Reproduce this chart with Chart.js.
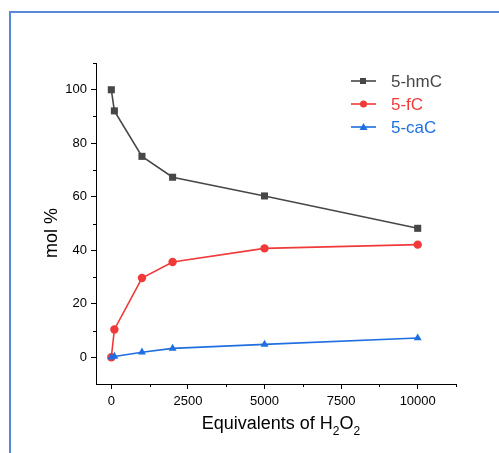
<!DOCTYPE html>
<html>
<head>
<meta charset="utf-8">
<script src="https://cdn.jsdelivr.net/npm/chart.js@4/dist/chart.umd.min.js"></script>
<style>
  html, body { margin: 0; padding: 0; background: #fff; overflow: hidden; }
  #wrap { position: relative; width: 499px; height: 453px; overflow: hidden; }
  #frame { position: absolute; left: 9px; top: 11px; width: 600px; height: 600px; border: 2px solid #5a88d8; box-sizing: border-box; }
  canvas { position: absolute; left: 0; top: 0; }
</style>
</head>
<body>
<div id="wrap">
  <div id="frame"></div>
  <canvas id="chart" width="499" height="453"></canvas>
</div>
<script>
// equivalents of H2O2
const equivalents = [0, 100, 1000, 2000, 5000, 10000];
// mol %
const hmC = [100, 92.1, 75.1, 67.3, 60.3, 48.2];
const fC = [0, 10.4, 29.6, 35.6, 40.7, 42.1];
const caC = [0, 0.3, 1.9, 3.3, 4.8, 7.2];

const seriesNames = ['5-hmC', '5-fC', '5-caC'];
const xMajor = [0, 2500, 5000, 7500, 10000];
const xMinor = [1250, 3750, 6250, 8750, 11250];
const yMajor = [0, 20, 40, 60, 80, 100];
const yMinor = [10, 30, 50, 70, 90, 110];

const FONT = 'Arial, "Liberation Sans", sans-serif';
const colors = ['#474747', '#f03a3a', '#1f6fe0'];
const markers = ['rect', 'circle', 'triangle'];

const toPoints = (ys) => equivalents.map((x, i) => ({ x: x, y: ys[i] }));

// later series drawn on top, like the original plot
const makeSet = (i, ys, radius) => ({
    label: seriesNames[i],
    data: toPoints(ys),
    order: 2 - i,
    borderColor: colors[i],
    backgroundColor: colors[i],
    borderWidth: 1.6,
    pointStyle: markers[i],
    pointRadius: radius,
    pointBorderWidth: 0,
    tension: 0
});

// short outward minor ticks
const minorTicks = {
    id: 'minorTicks',
    afterDraw(chart) {
        const ctx = chart.ctx;
        const xs = chart.scales.x, ys = chart.scales.y;
        ctx.save();
        ctx.strokeStyle = '#000';
        ctx.lineWidth = 1;
        ctx.beginPath();
        xMinor.forEach(v => {
            const px = Math.round(xs.getPixelForValue(v)) + 0.5;
            ctx.moveTo(px, ys.bottom);
            ctx.lineTo(px, ys.bottom + 3);
        });
        yMinor.forEach(v => {
            const py = Math.round(ys.getPixelForValue(v)) + 0.5;
            ctx.moveTo(xs.left, py);
            ctx.lineTo(xs.left - 3, py);
        });
        ctx.stroke();
        ctx.restore();
    }
};

// axis titles (x title needs subscripts)
const axisTitles = {
    id: 'axisTitles',
    afterDraw(chart) {
        const ctx = chart.ctx;
        const xs = chart.scales.x;
        ctx.save();
        ctx.fillStyle = '#000';
        const big = '18px ' + FONT, small = '12px ' + FONT;
        const parts = [['Equivalents of H', big, 0], ['2', small, 6], ['O', big, 0], ['2', small, 6]];
        let total = 0;
        parts.forEach(p => { ctx.font = p[1]; total += ctx.measureText(p[0]).width; });
        let x = (xs.left + xs.right) / 2 + 5 - total / 2;
        ctx.textBaseline = 'alphabetic';
        parts.forEach(p => {
            ctx.font = p[1];
            ctx.fillText(p[0], x, 429 + p[2]);
            x += ctx.measureText(p[0]).width;
        });

        ctx.translate(57, 233);
        ctx.rotate(-Math.PI / 2);
        ctx.font = big;
        ctx.textAlign = 'center';
        ctx.fillText('mol %', 0, 0);
        ctx.restore();
    }
};

// legend with line + marker, text in series colour
const lineLegend = {
    id: 'lineLegend',
    afterDraw(chart) {
        const ctx = chart.ctx;
        ctx.save();
        chart.data.datasets.forEach((ds, i) => {
            const y = 81 + i * 23;
            ctx.strokeStyle = ds.borderColor;
            ctx.fillStyle = ds.borderColor;
            ctx.lineWidth = 1.6;
            ctx.beginPath();
            ctx.moveTo(351, y);
            ctx.lineTo(376, y);
            ctx.stroke();
            ctx.beginPath();
            if (ds.pointStyle === 'rect') {
                ctx.rect(360, y - 3, 6, 6);
            } else if (ds.pointStyle === 'circle') {
                ctx.arc(363.5, y, 3.5, 0, Math.PI * 2);
            } else {
                ctx.moveTo(363.5, y - 4);
                ctx.lineTo(367.5, y + 3);
                ctx.lineTo(359.5, y + 3);
                ctx.closePath();
            }
            ctx.fill();
            ctx.font = '17px ' + FONT;
            ctx.textBaseline = 'middle';
            ctx.fillText(ds.label, 391, y + 1);
        });
        ctx.restore();
    }
};

new Chart(document.getElementById('chart'), {
    type: 'line',
    data: {
        datasets: [makeSet(0, hmC, 5), makeSet(1, fC, 4.2), makeSet(2, caC, 4.6)]
    },
    options: {
        responsive: false,
        animation: false,
        layout: { padding: { top: 63, right: 43, left: 0, bottom: 0 } },
        plugins: { legend: { display: false }, tooltip: { enabled: false } },
        scales: {
            x: {
                type: 'linear',
                min: -500,
                max: 11250,
                afterBuildTicks: (axis) => { axis.ticks = xMajor.map(v => ({ value: v })); },
                afterFit: (axis) => { axis.height = 69; },
                grid: { drawOnChartArea: false, drawTicks: true, tickLength: 5, color: '#000' },
                border: { color: '#000', width: 1 },
                ticks: { color: '#000', padding: 5, maxRotation: 0, font: { family: FONT, size: 13 },
                    callback: (v) => String(v) }
            },
            y: {
                type: 'linear',
                min: -10,
                max: 110,
                afterBuildTicks: (axis) => { axis.ticks = yMajor.map(v => ({ value: v })); },
                afterFit: (axis) => { axis.width = 96; },
                grid: { drawOnChartArea: false, drawTicks: true, tickLength: 5, color: '#000' },
                border: { color: '#000', width: 1 },
                ticks: { color: '#000', padding: 4, font: { family: FONT, size: 13 },
                    callback: (v) => String(v) }
            }
        }
    },
    plugins: [minorTicks, axisTitles, lineLegend]
});
</script>
</body>
</html>
